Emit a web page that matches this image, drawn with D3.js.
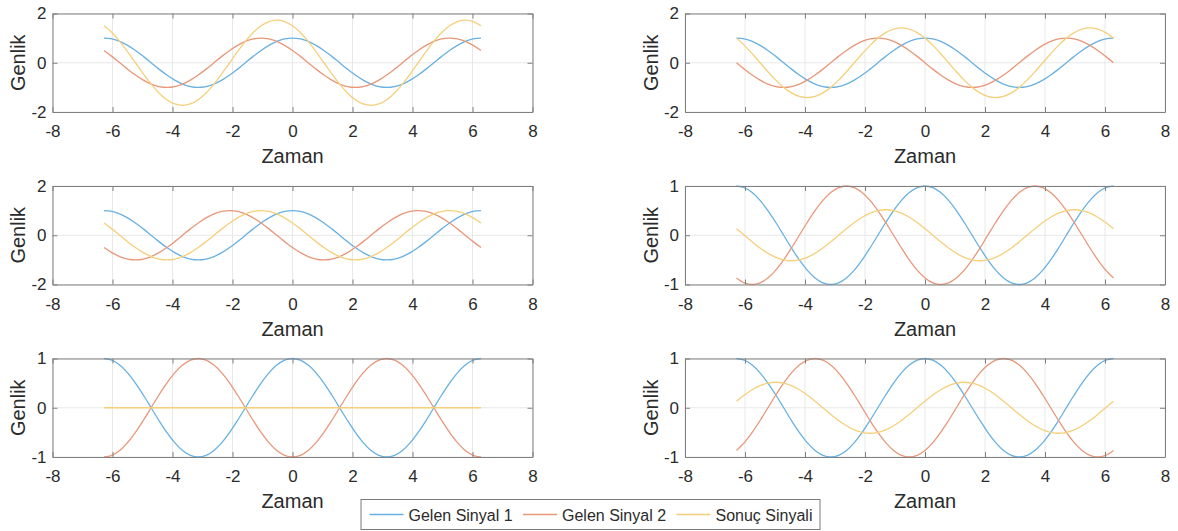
<!DOCTYPE html>
<html>
<head>
<meta charset="utf-8">
<script src="https://cdn.jsdelivr.net/npm/d3@7"></script>
<style>
  body { margin: 0; background: #fff; }
  svg { display: block; font-family: "Liberation Sans", Arial, sans-serif; }
  .tick text { fill: #2b2b2b; }
</style>
</head>
<body>
<div id="chart"></div>
<script>
// time axis, -2pi..2pi
var zaman = [-6.283,-6.021,-5.760,-5.498,-5.236,-4.974,-4.712,-4.451,-4.189,-3.927,-3.665,-3.403,
             -3.142,-2.880,-2.618,-2.356,-2.094,-1.833,-1.571,-1.309,-1.047,-0.785,-0.524,-0.262,
             0,0.262,0.524,0.785,1.047,1.309,1.571,1.833,2.094,2.356,2.618,2.880,
             3.142,3.403,3.665,3.927,4.189,4.451,4.712,4.974,5.236,5.498,5.760,6.021,6.283];

// gelen sinyal 1 (same in every panel)
var sinyal1 = [1,0.966,0.866,0.707,0.5,0.259,0,-0.259,-0.5,-0.707,-0.866,-0.966,-1,-0.966,-0.866,-0.707,-0.5,-0.259,0,0.259,0.5,0.707,0.866,0.966,
               1,0.966,0.866,0.707,0.5,0.259,0,-0.259,-0.5,-0.707,-0.866,-0.966,-1,-0.966,-0.866,-0.707,-0.5,-0.259,0,0.259,0.5,0.707,0.866,0.966,1];

// gelen sinyal 2, one per panel
var sinyal2_a = [0.5,0.259,0,-0.259,-0.5,-0.707,-0.866,-0.966,-1,-0.966,-0.866,-0.707,-0.5,-0.259,0,0.259,0.5,0.707,0.866,0.966,1,0.966,0.866,0.707,
                 0.5,0.259,0,-0.259,-0.5,-0.707,-0.866,-0.966,-1,-0.966,-0.866,-0.707,-0.5,-0.259,0,0.259,0.5,0.707,0.866,0.966,1,0.966,0.866,0.707,0.5];
var sinyal2_b = [0,-0.259,-0.5,-0.707,-0.866,-0.966,-1,-0.966,-0.866,-0.707,-0.5,-0.259,0,0.259,0.5,0.707,0.866,0.966,1,0.966,0.866,0.707,0.5,0.259,
                 0,-0.259,-0.5,-0.707,-0.866,-0.966,-1,-0.966,-0.866,-0.707,-0.5,-0.259,0,0.259,0.5,0.707,0.866,0.966,1,0.966,0.866,0.707,0.5,0.259,0];
var sinyal2_c = [-0.5,-0.707,-0.866,-0.966,-1,-0.966,-0.866,-0.707,-0.5,-0.259,0,0.259,0.5,0.707,0.866,0.966,1,0.966,0.866,0.707,0.5,0.259,0,-0.259,
                 -0.5,-0.707,-0.866,-0.966,-1,-0.966,-0.866,-0.707,-0.5,-0.259,0,0.259,0.5,0.707,0.866,0.966,1,0.966,0.866,0.707,0.5,0.259,0,-0.259,-0.5];
var sinyal2_d = [-0.866,-0.966,-1,-0.966,-0.866,-0.707,-0.5,-0.259,0,0.259,0.5,0.707,0.866,0.966,1,0.966,0.866,0.707,0.5,0.259,0,-0.259,-0.5,-0.707,
                 -0.866,-0.966,-1,-0.966,-0.866,-0.707,-0.5,-0.259,0,0.259,0.5,0.707,0.866,0.966,1,0.966,0.866,0.707,0.5,0.259,0,-0.259,-0.5,-0.707,-0.866];
var sinyal2_e = [-1,-0.966,-0.866,-0.707,-0.5,-0.259,0,0.259,0.5,0.707,0.866,0.966,1,0.966,0.866,0.707,0.5,0.259,0,-0.259,-0.5,-0.707,-0.866,-0.966,
                 -1,-0.966,-0.866,-0.707,-0.5,-0.259,0,0.259,0.5,0.707,0.866,0.966,1,0.966,0.866,0.707,0.5,0.259,0,-0.259,-0.5,-0.707,-0.866,-0.966,-1];
var sinyal2_f = [-0.866,-0.707,-0.5,-0.259,0,0.259,0.5,0.707,0.866,0.966,1,0.966,0.866,0.707,0.5,0.259,0,-0.259,-0.5,-0.707,-0.866,-0.966,-1,-0.966,
                 -0.866,-0.707,-0.5,-0.259,0,0.259,0.5,0.707,0.866,0.966,1,0.966,0.866,0.707,0.5,0.259,0,-0.259,-0.5,-0.707,-0.866,-0.966,-1,-0.966,-0.866];

// sonuc sinyali, one per panel
var sonuc_a = [1.5,1.225,0.866,0.448,0,-0.448,-0.866,-1.225,-1.5,-1.673,-1.732,-1.673,-1.5,-1.225,-0.866,-0.448,0,0.448,0.866,1.225,1.5,1.673,1.732,1.673,
               1.5,1.225,0.866,0.448,0,-0.448,-0.866,-1.225,-1.5,-1.673,-1.732,-1.673,-1.5,-1.225,-0.866,-0.448,0,0.448,0.866,1.225,1.5,1.673,1.732,1.673,1.5];
var sonuc_b = [1,0.707,0.366,0,-0.366,-0.707,-1,-1.225,-1.366,-1.414,-1.366,-1.225,-1,-0.707,-0.366,0,0.366,0.707,1,1.225,1.366,1.414,1.366,1.225,
               1,0.707,0.366,0,-0.366,-0.707,-1,-1.225,-1.366,-1.414,-1.366,-1.225,-1,-0.707,-0.366,0,0.366,0.707,1,1.225,1.366,1.414,1.366,1.225,1];
var sonuc_c = [0.5,0.259,0,-0.259,-0.5,-0.707,-0.866,-0.966,-1,-0.966,-0.866,-0.707,-0.5,-0.259,0,0.259,0.5,0.707,0.866,0.966,1,0.966,0.866,0.707,
               0.5,0.259,0,-0.259,-0.5,-0.707,-0.866,-0.966,-1,-0.966,-0.866,-0.707,-0.5,-0.259,0,0.259,0.5,0.707,0.866,0.966,1,0.966,0.866,0.707,0.5];
var sonuc_d = [0.134,0,-0.134,-0.259,-0.366,-0.448,-0.5,-0.518,-0.5,-0.448,-0.366,-0.259,-0.134,0,0.134,0.259,0.366,0.448,0.5,0.518,0.5,0.448,0.366,0.259,
               0.134,0,-0.134,-0.259,-0.366,-0.448,-0.5,-0.518,-0.5,-0.448,-0.366,-0.259,-0.134,0,0.134,0.259,0.366,0.448,0.5,0.518,0.5,0.448,0.366,0.259,0.134];
var sonuc_e = [0,0,0,0,0,0,0,0,0,0,0,0,0,0,0,0,0,0,0,0,0,0,0,0,
               0,0,0,0,0,0,0,0,0,0,0,0,0,0,0,0,0,0,0,0,0,0,0,0,0];
var sonuc_f = [0.134,0.259,0.366,0.448,0.5,0.518,0.5,0.448,0.366,0.259,0.134,0,-0.134,-0.259,-0.366,-0.448,-0.5,-0.518,-0.5,-0.448,-0.366,-0.259,-0.134,0,
               0.134,0.259,0.366,0.448,0.5,0.518,0.5,0.448,0.366,0.259,0.134,0,-0.134,-0.259,-0.366,-0.448,-0.5,-0.518,-0.5,-0.448,-0.366,-0.259,-0.134,0,0.134];

var xTicks = [-8,-6,-4,-2,0,2,4,6,8];
var yTicksBig = [-2,0,2];
var yTicksSmall = [-1,0,1];
var seriesNames = ["Gelen Sinyal 1","Gelen Sinyal 2","Sonuç Sinyali"];
var colors = ["#68b1e2","#e8977a","#f5d07a"];

var panels = [
  {s2: sinyal2_a, s3: sonuc_a, yt: yTicksBig},
  {s2: sinyal2_b, s3: sonuc_b, yt: yTicksBig},
  {s2: sinyal2_c, s3: sonuc_c, yt: yTicksBig},
  {s2: sinyal2_d, s3: sonuc_d, yt: yTicksSmall},
  {s2: sinyal2_e, s3: sonuc_e, yt: yTicksSmall},
  {s2: sinyal2_f, s3: sonuc_f, yt: yTicksSmall}
];

var W = 1178, H = 531;
var colLeft = [52.5, 685], pw = 480;
var rowTop = [13.5, 186, 358.5], ph = 98.5;

var svg = d3.select("#chart").append("svg")
    .attr("width", W)
    .attr("height", H);
svg.append("rect").attr("width", W).attr("height", H).attr("fill", "#fff");

panels.forEach(function(p, i){
    var left = colLeft[i % 2], top = rowTop[Math.floor(i / 2)];
    var x = d3.scaleLinear().domain([-8, 8]).range([0, pw]);
    var y = d3.scaleLinear().domain(d3.extent(p.yt)).range([ph, 0]);
    var g = svg.append("g").attr("transform", "translate(" + left + "," + top + ")");

    // grid
    g.selectAll(".gx").data(xTicks).enter().append("line")
        .attr("x1", d => x(d)).attr("x2", d => x(d))
        .attr("y1", 0).attr("y2", ph)
        .attr("stroke", "#e8e8e8").attr("stroke-width", 1);
    g.selectAll(".gy").data(p.yt).enter().append("line")
        .attr("y1", d => y(d)).attr("y2", d => y(d))
        .attr("x1", 0).attr("x2", pw)
        .attr("stroke", "#e8e8e8").attr("stroke-width", 1);

    // lines
    var line = d3.line()
        .x((d, k) => x(zaman[k]))
        .y(d => y(d))
        .curve(d3.curveCatmullRom);
    [sinyal1, p.s2, p.s3].forEach(function(s, j){
        g.append("path").datum(s)
            .attr("d", line)
            .attr("fill", "none")
            .attr("stroke", colors[j])
            .attr("stroke-width", 1.3);
    });

    // axes, ticks inside like matlab
    var xb = g.append("g").attr("transform", "translate(0," + ph + ")")
        .call(d3.axisBottom(x).tickValues(xTicks).tickSize(-5).tickSizeOuter(0).tickPadding(13));
    var xt = g.append("g")
        .call(d3.axisTop(x).tickValues(xTicks).tickSize(-5).tickSizeOuter(0).tickFormat(""));
    var yl = g.append("g")
        .call(d3.axisLeft(y).tickValues(p.yt).tickSize(-5).tickSizeOuter(0).tickPadding(6));
    var yr = g.append("g").attr("transform", "translate(" + pw + ",0)")
        .call(d3.axisRight(y).tickValues(p.yt).tickSize(-5).tickSizeOuter(0).tickFormat(""));
    [xb, xt, yl, yr].forEach(function(a){
        a.selectAll("path, line").attr("stroke", "#808080");
        a.selectAll("text").attr("font-size", 17).attr("fill", "#2b2b2b")
            .attr("font-family", '"Liberation Sans", Arial, sans-serif');
    });
    xb.selectAll("text").text(d => d < 0 ? "-" + Math.abs(d) : d);
    yl.selectAll("text").text(d => d < 0 ? "-" + Math.abs(d) : d);

    g.append("text")
        .attr("x", pw / 2).attr("y", ph + 51)
        .attr("text-anchor", "middle")
        .attr("font-size", 20).attr("fill", "#2b2b2b")
        .text("Zaman");
    g.append("text")
        .attr("transform", "translate(-27.5," + (ph / 2) + ") rotate(-90)")
        .attr("text-anchor", "middle")
        .attr("font-size", 20).attr("fill", "#2b2b2b")
        .text("Genlik");
});

// legend
var leg = svg.append("g").attr("transform", "translate(361,499.5)");
leg.append("rect").attr("width", 459).attr("height", 30)
    .attr("fill", "#fff").attr("stroke", "#7a7a7a").attr("stroke-width", 1);
var legX = [8.5, 162, 315.5];
seriesNames.forEach(function(n, j){
    leg.append("line")
        .attr("x1", legX[j]).attr("x2", legX[j] + 34)
        .attr("y1", 15).attr("y2", 15)
        .attr("stroke", colors[j]).attr("stroke-width", 1.3);
    leg.append("text")
        .attr("x", legX[j] + 39).attr("y", 21.5)
        .attr("font-size", 16).attr("fill", "#2b2b2b")
        .text(n);
});
</script>
</body>
</html>
